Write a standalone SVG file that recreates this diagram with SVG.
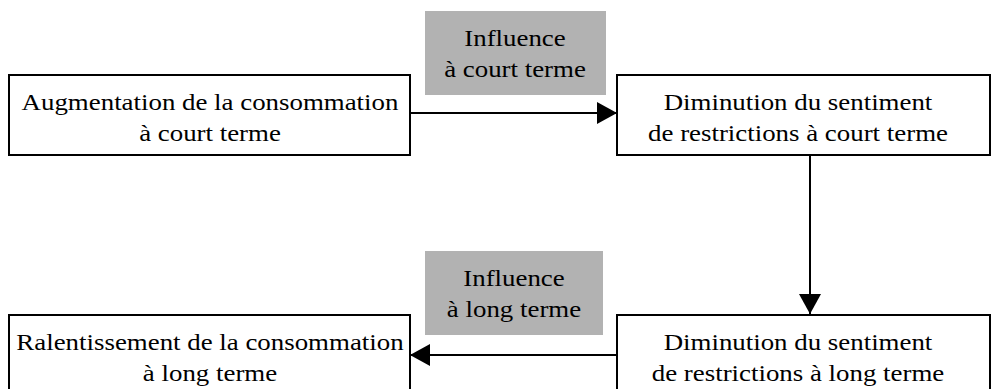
<svg xmlns="http://www.w3.org/2000/svg" width="991" height="389" viewBox="0 0 991 389">
  <style>
    .box { fill: #ffffff; stroke: #000000; stroke-width: 2; }
    .tag { fill: #b2b2b2; stroke: none; }
    .lbl { font-family: "Liberation Serif", "Times New Roman", serif; font-size: 24px; fill: #000000; text-anchor: middle; }
    .link { stroke: #000000; stroke-width: 2; fill: none; }
  </style>
  <defs>
    <marker id="head" viewBox="0 0 20 22" refX="20" refY="11" markerWidth="20" markerHeight="22" markerUnits="userSpaceOnUse" orient="auto">
      <path d="M0,0 L20,11 L0,22 Z" fill="#000000"/>
    </marker>
  </defs>
  <rect width="991" height="389" fill="#ffffff"/>

  <g id="influence-court">
    <rect class="tag" x="425" y="11" width="181" height="84"/>
    <text class="lbl" transform="matrix(1.12 0 0 1 515 0)" x="0" y="46">Influence</text>
    <text class="lbl" transform="matrix(1.12 0 0 1 515 0)" x="0" y="77">à court terme</text>
  </g>
  <g id="influence-long">
    <rect class="tag" x="425" y="251" width="178" height="84"/>
    <text class="lbl" transform="matrix(1.12 0 0 1 514 0)" x="0" y="286">Influence</text>
    <text class="lbl" transform="matrix(1.12 0 0 1 514 0)" x="0" y="317">à long terme</text>
  </g>

  <g id="connectors">
    <line class="link" x1="410" y1="113" x2="617" y2="113" marker-end="url(#head)"/>
    <line class="link" x1="810" y1="155" x2="810" y2="314" marker-end="url(#head)"/>
    <line class="link" x1="617" y1="355" x2="410" y2="355" marker-end="url(#head)"/>
  </g>

  <g id="augmentation">
    <rect class="box" x="9" y="75" width="401" height="80"/>
    <text class="lbl" transform="matrix(1.12 0 0 1 210 0)" x="0" y="110">Augmentation de la consommation</text>
    <text class="lbl" transform="matrix(1.12 0 0 1 210 0)" x="0" y="141">à court terme</text>
  </g>
  <g id="diminution-court">
    <rect class="box" x="617" y="75" width="373" height="80"/>
    <text class="lbl" transform="matrix(1.12 0 0 1 798 0)" x="0" y="110">Diminution du sentiment</text>
    <text class="lbl" transform="matrix(1.12 0 0 1 798 0)" x="0" y="141">de restrictions à court terme</text>
  </g>
  <g id="ralentissement">
    <rect class="box" x="9" y="315" width="401" height="80"/>
    <text class="lbl" transform="matrix(1.12 0 0 1 210 0)" x="0" y="350">Ralentissement de la consommation</text>
    <text class="lbl" transform="matrix(1.12 0 0 1 210 0)" x="0" y="381">à long terme</text>
  </g>
  <g id="diminution-long">
    <rect class="box" x="617" y="315" width="373" height="80"/>
    <text class="lbl" transform="matrix(1.12 0 0 1 798 0)" x="0" y="350">Diminution du sentiment</text>
    <text class="lbl" transform="matrix(1.12 0 0 1 798 0)" x="0" y="381">de restrictions à long terme</text>
  </g>
</svg>
